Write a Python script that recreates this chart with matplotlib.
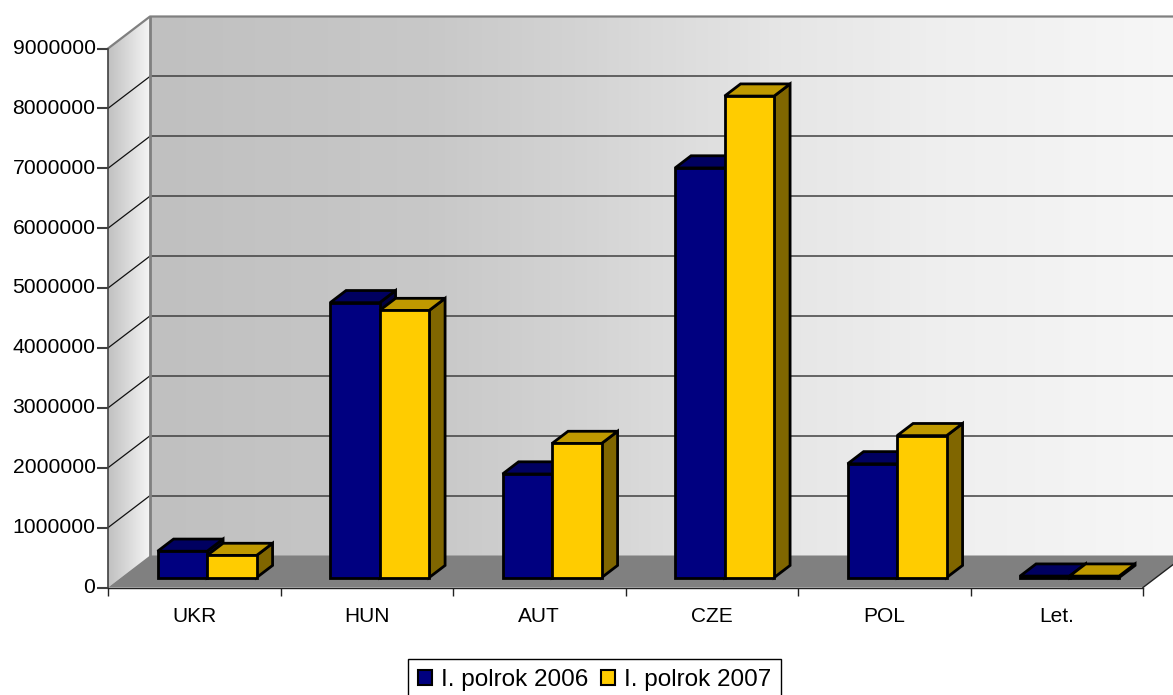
import matplotlib
matplotlib.use("Agg")
import matplotlib.pyplot as plt
import numpy as np
from matplotlib.patches import Polygon, Patch
from matplotlib.transforms import ScaledTranslation

plt.rcParams['font.family'] = ['Liberation Sans', 'DejaVu Sans']

categories = ["UKR", "HUN", "AUT", "CZE", "POL", "Let."]
values_2006 = [440000, 4590000, 1730000, 6840000, 1900000, 25000]
values_2007 = [370000, 4460000, 2240000, 8040000, 2370000, 25000]
series_names = ["I. polrok 2006", "I. polrok 2007"]
yticks = [0, 1000000, 2000000, 3000000, 4000000, 5000000, 6000000, 7000000, 8000000, 9000000]

W, H = 1173, 695
fig = plt.figure(figsize=(W / 100, H / 100), dpi=100)
ax = fig.add_axes([108 / W, 1 - 587.5 / H, 1035 / W, 539 / H])

# oblique depth of the box, in data units
wall_dx = 42 / 172.5
wall_dy = 32 / 59.89 * 1e6
front = 0.31
back = 0.69
bar_w = 49.5 / 172.5
bar_gap = 36.6 / 172.5


def shift(x, y, d):
    return x + wall_dx * d, y + wall_dy * d


def poly(pts, fc, ec="none", lw=0, z=1):
    p = Polygon(pts, closed=True, facecolor=fc, edgecolor=ec, linewidth=lw,
                zorder=z, clip_on=False, joinstyle="miter")
    ax.add_patch(p)
    return p


ymax = yticks[-1]
# wall shading, it is not even across the width
back_cmap = matplotlib.colors.LinearSegmentedColormap.from_list(
    "back", [(0, "#c0c0c0"), (0.27, "#c8c8c8"), (0.41, "#d3d3d3"), (0.56, "#e1e1e1"),
             (0.61, "#e6e6e6"), (0.77, "#efefef"), (1, "#f7f7f7")])
left_cmap = matplotlib.colors.LinearSegmentedColormap.from_list("left", ["#c0c0c0", "#f5f5f5"])
grad = np.linspace(0, 1, 256).reshape(1, -1)

# back wall
bx0, by0 = shift(0, 0, 1)
bx1, by1 = shift(6, ymax, 1)
im = ax.imshow(grad, extent=[bx0, bx1, by0, by1], aspect="auto", cmap=back_cmap, zorder=0.5)
im.set_clip_on(False)

# left wall
lp = Polygon([(0, 0), (bx0, by0), (bx0, by1), (0, ymax)], closed=True, transform=ax.transData,
             facecolor="none", edgecolor="none", clip_on=False)
ax.add_patch(lp)
im2 = ax.imshow(grad, extent=[0, bx0, 0, by1], aspect="auto", cmap=left_cmap, zorder=0.5)
im2.set_clip_path(lp)
im2.set_clip_box(fig.bbox)

# floor
poly([(0, 0), (6, 0), (bx1, by0), (bx0, by0)], "#808080", z=1)

# grid lines on both walls
for v in yticks[1:]:
    x2, y2 = shift(0, v, 1)
    if v == ymax:
        ax.plot([0, x2, bx1], [v, y2, y2], color="#808080", lw=1.6, zorder=1.5, clip_on=False)
    else:
        ax.plot([0, x2], [v, y2], color="#111111", lw=0.9, zorder=1.5, clip_on=False)
        ax.plot([x2, bx1], [y2, y2], color="#404040", lw=1.1, zorder=1.5, clip_on=False)
ax.plot([bx0, bx0], [by0, by1], color="#808080", lw=2, zorder=1.6, clip_on=False)
ax.plot([6, bx1], [0, by0], color="#222222", lw=1, zorder=1.6, clip_on=False)

# bars
z = 2
for i in range(len(categories)):
    for j, (vals, main, top, side) in enumerate([
        (values_2006, "#000080", "#000060", "#000040"),
        (values_2007, "#ffcc00", "#bf9900", "#806600"),
    ]):
        x0 = i + bar_gap + j * bar_w
        x1 = x0 + bar_w
        v = vals[i]
        f0, b0 = shift(x0, 0, front)
        f1, _ = shift(x1, 0, front)
        ft = b0 + v
        dx = wall_dx * (back - front)
        dy = wall_dy * (back - front)
        poly([(f1, b0), (f1 + dx, b0 + dy), (f1 + dx, ft + dy), (f1, ft)], side, "black", 2, z)
        poly([(f0, ft), (f1, ft), (f1 + dx, ft + dy), (f0 + dx, ft + dy)], top, "black", 2, z)
        poly([(f0, b0), (f1, b0), (f1, ft), (f0, ft)], main, "black", 2, z)
        z += 0.1

ax.set_xlim(0, 6)
ax.set_ylim(0, ymax)
ax.set_yticks(yticks)
ax.set_yticklabels([str(v) for v in yticks], fontsize=15.2, color="black")
ax.tick_params(axis="y", length=8, width=1.5, color="#404040", pad=1)
up = ScaledTranslation(0, 1.5 / 72, fig.dpi_scale_trans)
for lab in ax.get_yticklabels():
    lab.set_transform(lab.get_transform() + up)
ax.set_xticks(range(7))
ax.set_xticklabels([])
ax.tick_params(axis="x", which="major", length=6, width=1, color="#222222")
ax.set_xticks(np.arange(len(categories)) + 0.5, minor=True)
ax.set_xticklabels(categories, minor=True, fontsize=15)
ax.tick_params(axis="x", which="minor", length=0, pad=14)

for s in ["top", "right"]:
    ax.spines[s].set_visible(False)
ax.spines["left"].set_color("#404040")
ax.spines["left"].set_linewidth(1.2)
ax.spines["bottom"].set_color("#222222")
ax.spines["bottom"].set_linewidth(1)
for s in ax.spines.values():
    s.set_zorder(1.8)
ax.patch.set_visible(False)

handles = [Patch(facecolor="#000080", edgecolor="black", linewidth=1.5),
           Patch(facecolor="#ffcc00", edgecolor="black", linewidth=1.5)]
leg = fig.legend(handles, series_names, ncol=2, loc="upper left",
                 bbox_to_anchor=(408 / W, 1 - 659 / H), fontsize=17.5, frameon=True,
                 fancybox=False, edgecolor="black", framealpha=1,
                 handlelength=0.58, handleheight=0.58, handletextpad=0.36,
                 columnspacing=0.52, borderpad=0.42, borderaxespad=0)
leg.get_frame().set_linewidth(1)

fig.savefig("out.png", dpi=100, facecolor="white")
